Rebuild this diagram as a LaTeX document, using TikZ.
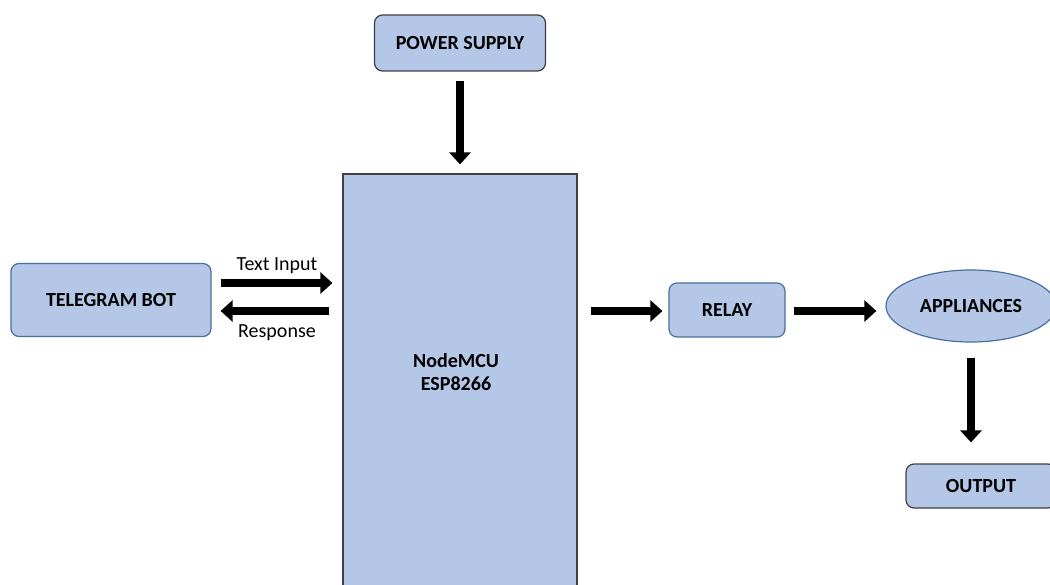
\documentclass[tikz,border=0pt]{standalone}
\usepackage{fontspec}
\setmainfont{Carlito}
\usetikzlibrary{arrows.meta,shapes.geometric}

\definecolor{boxfill}{HTML}{B4C7E7}
\definecolor{blueedge}{HTML}{4A6E9E}
\definecolor{grayedge}{HTML}{3F3F3F}

\begin{document}
\begin{tikzpicture}[
    x=1pt, y=-1pt,
    every node/.style={font=\fontsize{20}{23}\selectfont},
    blockbox/.style={
        draw, line width=1.2pt,
        rounded corners=8pt,
        fill=boxfill,
        inner sep=0pt,
        font=\fontsize{20}{23}\selectfont\bfseries
    },
    blockarrow/.style={
        line width=8pt, draw=black,
        -{Triangle[width=21pt, length=12pt]}
    },
    arrowlbl/.style={font=\fontsize{20}{23}\selectfont, inner sep=0pt}
]
\useasboundingbox (0,0) rectangle (1050,585);
\clip (0,0) rectangle (1050,585);

% =========================================================
% Blocks
% =========================================================
\node[blockbox, draw=grayedge, minimum width=171pt, minimum height=56pt]
    (power) at (460, 43) {POWER SUPPLY};

\node[draw=grayedge, line width=1.2pt, fill=boxfill, inner sep=0pt,
      minimum width=234pt, minimum height=440pt]
    (mcu) at (460, 394) {};
\node[font=\fontsize{20}{23}\selectfont\bfseries, align=center]
    (mcutxt) at (456, 372) {NodeMCU\\ESP8266};

\node[blockbox, draw=blueedge, minimum width=200pt, minimum height=73pt]
    (bot) at (111, 300) {TELEGRAM BOT};

\node[blockbox, draw=blueedge, minimum width=116pt, minimum height=54pt]
    (relay) at (727, 310) {RELAY};

\node[ellipse, draw=blueedge, line width=1.2pt, fill=boxfill, inner sep=0pt,
      minimum width=170pt, minimum height=72pt,
      font=\fontsize{20}{23}\selectfont\bfseries]
    (app) at (971, 306) {APPLIANCES};

\node[blockbox, draw=grayedge, minimum width=150pt, minimum height=44pt]
    (out) at (981, 486) {OUTPUT};

% =========================================================
% Arrows
% =========================================================
\draw[blockarrow, shorten <=9pt, shorten >=9pt] (power.south) -- (mcu.north);

% Telegram <-> NodeMCU
\draw[blockarrow, shorten <=9pt, shorten >=10pt]
    ([yshift=17pt]bot.east) -- ([yshift=17pt]bot.east -| mcu.west)
    node[arrowlbl, midway, above=5pt] (inlbl) {Text Input};
\draw[blockarrow, shorten <=13pt, shorten >=9pt]
    ([yshift=-11pt]bot.east -| mcu.west) -- ([yshift=-11pt]bot.east)
    node[arrowlbl, midway, below=10pt] (resplbl) {Response};

% NodeMCU -> Relay -> Appliances -> Output
\draw[blockarrow, shorten <=13pt, shorten >=6pt]
    ([yshift=-1pt]relay.west -| mcu.east) -- ([yshift=-1pt]relay.west);
\draw[blockarrow, shorten <=8pt, shorten >=9pt]
    ([yshift=-1pt]relay.east) -- ([yshift=-1pt]relay.east -| app.west);
\draw[blockarrow, shorten <=15pt, shorten >=21pt]
    (app.south) -- (app.south |- out.north);

\end{tikzpicture}
\end{document}
